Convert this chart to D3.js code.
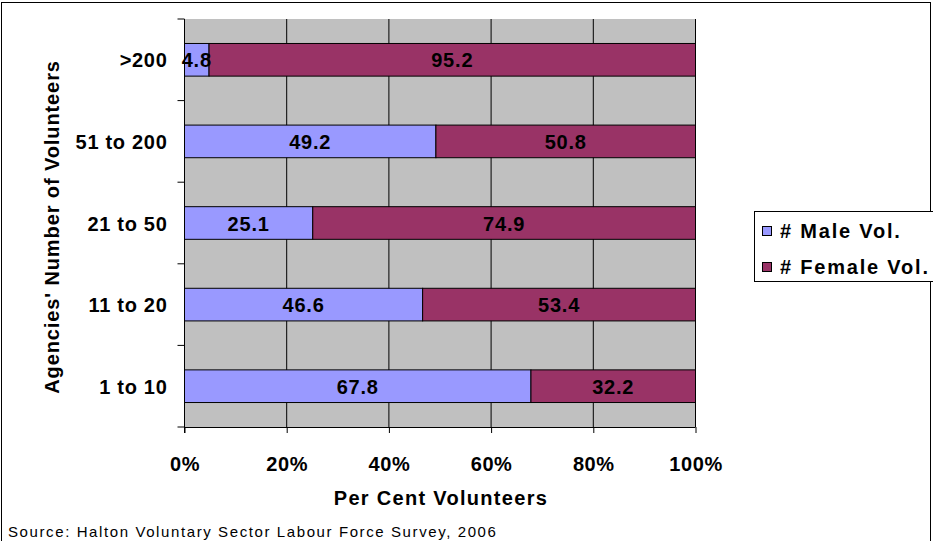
<!DOCTYPE html>
<html><head><meta charset="utf-8">
<script src="https://cdn.jsdelivr.net/npm/d3@7"></script>
<style>body{margin:0;background:#fff}svg{display:block;font-family:Arial,"Liberation Sans",sans-serif}</style>
</head><body>
<svg id="c" width="933" height="541"></svg>
<script>
const categories = [">200", "51 to 200", "21 to 50", "11 to 20", "1 to 10"];
const maleVol = [4.8, 49.2, 25.1, 46.6, 67.8];
const femaleVol = [95.2, 50.8, 74.9, 53.4, 32.2];
const seriesNames = ["# Male Vol.", "# Female Vol."];
const seriesColors = ["#9999ff", "#993366"];
const xTicks = [0, 20, 40, 60, 80, 100];

const FF = "Arial, 'Liberation Sans', sans-serif";
const svg = d3.select("#c");
svg.append("rect").attr("x", 1.5).attr("y", 2.5).attr("width", 929).attr("height", 560)
  .attr("fill", "none").attr("stroke", "#000").attr("stroke-width", 1);

const L = 184.5, R = 695.5, T = 19, B = 427;
const x = d3.scaleLinear().domain([0, 100]).range([L, R]);
const y = d3.scaleBand().domain(categories).range([T, B]).paddingInner(0.6).paddingOuter(0.3);
const yb = d3.scaleBand().domain(categories).range([T, B]);

svg.append("rect").attr("x", L).attr("y", T).attr("width", R - L).attr("height", B - T).attr("fill", "#c0c0c0");

svg.append("g").selectAll("line").data(xTicks.slice(1)).join("line")
  .attr("x1", d => x(d)).attr("x2", d => x(d)).attr("y1", T).attr("y2", B)
  .attr("stroke", "#000").attr("stroke-width", 1);

const data = categories.map((c, i) => ({c, parts: [{s: 0, v: maleVol[i], x0: 0}, {s: 1, v: femaleVol[i], x0: maleVol[i]}]}));

const g = svg.append("g");
data.forEach(d => {
  d.parts.forEach(p => {
    g.append("rect").attr("x", x(p.x0)).attr("y", y(d.c)).attr("width", x(p.x0 + p.v) - x(p.x0))
      .attr("height", y.bandwidth()).attr("fill", seriesColors[p.s]).attr("stroke", "#000").attr("stroke-width", 1);
  });
  d.parts.forEach(p => {
    g.append("text").attr("x", x(p.x0 + p.v / 2)).attr("y", y(d.c) + y.bandwidth() / 2 + 7.5)
      .attr("text-anchor", "middle").attr("font-weight", "bold").attr("font-size", 20)
      .attr("letter-spacing", 0.8).attr("fill", "#000")
      .text(p.v.toFixed(1));
  });
});

const xa = svg.append("g").attr("transform", `translate(0,${B})`)
  .call(d3.axisBottom(x).tickValues(xTicks).tickSize(6).tickPadding(0).tickFormat(d => d + "%"));
xa.select(".domain").attr("stroke", "#000").attr("d", `M${L},0.5H${R}`);
xa.selectAll(".tick line").attr("stroke", "#000");
xa.selectAll("text").attr("font-size", 20).attr("font-weight", "bold").attr("fill", "#000")
  .attr("font-family", FF).attr("letter-spacing", 0.6).attr("dy", null).attr("y", 44);

const ya = svg.append("g").attr("transform", `translate(${L},0)`);
ya.append("line").attr("x1", 0).attr("x2", 0).attr("y1", T).attr("y2", B + 6).attr("stroke", "#000");
const bounds = categories.map(c => yb(c)).concat([B]);
ya.selectAll("line.t").data(bounds).join("line").attr("class", "t")
  .attr("x1", -7).attr("x2", 0).attr("y1", d => d).attr("y2", d => d).attr("stroke", "#000");
ya.selectAll("text").data(categories).join("text")
  .attr("x", -17).attr("y", d => y(d) + y.bandwidth() / 2 + 7.5).attr("text-anchor", "end")
  .attr("font-size", 20).attr("font-weight", "bold").attr("letter-spacing", 0.7).attr("fill", "#000").text(d => d);

svg.append("text").attr("x", 441).attr("y", 505).attr("text-anchor", "middle")
  .attr("font-size", 20).attr("font-weight", "bold").attr("letter-spacing", 1.3).text("Per Cent Volunteers");
svg.append("text").attr("transform", "translate(59,227) rotate(-90)").attr("text-anchor", "middle")
  .attr("font-size", 20).attr("font-weight", "bold").attr("letter-spacing", 0.9).text("Agencies' Number of Volunteers");

svg.append("text").attr("x", 8).attr("y", 537).attr("font-size", 15).attr("letter-spacing", 1.6)
  .text("Source: Halton Voluntary Sector Labour Force Survey, 2006");

const lg = svg.append("g");
lg.append("rect").attr("x", 754.5).attr("y", 211.5).attr("width", 185).attr("height", 70)
  .attr("fill", "#fff").attr("stroke", "#000");
seriesNames.forEach((n, i) => {
  const yy = 231 + i * 36;
  lg.append("rect").attr("x", 762.5).attr("y", yy - 4.5).attr("width", 9).attr("height", 9)
    .attr("fill", seriesColors[i]).attr("stroke", "#000");
  lg.append("text").attr("x", 780).attr("y", yy + 7).attr("font-size", 20).attr("font-weight", "bold")
    .attr("letter-spacing", 1.8).text(n);
});
</script>
</body></html>
